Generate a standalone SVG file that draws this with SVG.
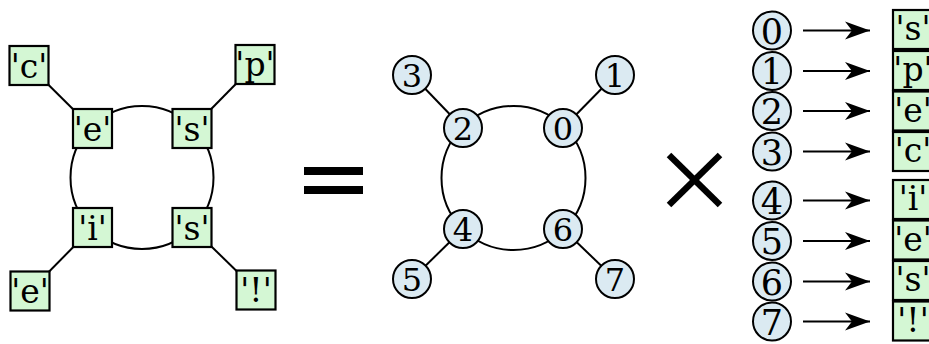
<svg xmlns="http://www.w3.org/2000/svg" width="929" height="344" viewBox="0 0 929 344">
<defs>
<style>
.edge{stroke:#000;stroke-width:2;fill:none}
.box{fill:#d4f7d4;stroke:#000;stroke-width:2.2}
.node{fill:#dbeaf2;stroke:#000;stroke-width:2}
.t{font-family:"DejaVu Serif","Liberation Serif",serif;font-size:33px;text-anchor:middle;fill:#000}
.tm{font-family:"DejaVu Serif","Liberation Serif",serif;font-size:32px;text-anchor:middle;fill:#000}
.tl{font-family:"DejaVu Serif","Liberation Serif",serif;font-size:35px;text-anchor:middle;fill:#000}
.tb{font-family:"DejaVu Serif","Liberation Serif",serif;font-size:33px;text-anchor:middle;fill:#000}
.arr{stroke:#000;stroke-width:2.2;fill:none}
</style>
<marker id="ah" viewBox="0 0 25 20" refX="25" refY="10" markerWidth="25" markerHeight="20" markerUnits="userSpaceOnUse" orient="auto">
<path d="M25,10 L0,1 L7,10 L0,19 Z" fill="#000"/>
</marker>
</defs>
<rect width="929" height="344" fill="#fff"/>

<g id="connectors">
<circle class="edge" cx="142" cy="177.5" r="71.5"/>
<line class="edge" x1="29" y1="65.5" x2="92.5" y2="128.5"/>
<line class="edge" x1="255" y1="64.5" x2="192" y2="128.5"/>
<line class="edge" x1="30" y1="291" x2="92.5" y2="227.5"/>
<line class="edge" x1="256" y1="290" x2="192" y2="227.5"/>
<circle class="edge" cx="513.5" cy="178" r="72"/>
<line class="edge" x1="412" y1="75" x2="463" y2="128"/>
<line class="edge" x1="615" y1="75" x2="563" y2="128"/>
<line class="edge" x1="412" y1="279" x2="463" y2="229"/>
<line class="edge" x1="615" y1="279" x2="563" y2="229"/>
<line class="arr" x1="803" y1="30.5" x2="870" y2="30.5" marker-end="url(#ah)"/>
<line class="arr" x1="803" y1="71" x2="870" y2="71" marker-end="url(#ah)"/>
<line class="arr" x1="803" y1="111" x2="870" y2="111" marker-end="url(#ah)"/>
<line class="arr" x1="803" y1="151.5" x2="870" y2="151.5" marker-end="url(#ah)"/>
<line class="arr" x1="803" y1="200.5" x2="870" y2="200.5" marker-end="url(#ah)"/>
<line class="arr" x1="803" y1="241" x2="870" y2="241" marker-end="url(#ah)"/>
<line class="arr" x1="803" y1="281.5" x2="870" y2="281.5" marker-end="url(#ah)"/>
<line class="arr" x1="803" y1="321.5" x2="870" y2="321.5" marker-end="url(#ah)"/>
</g>

<g id="L-c"><rect class="box" x="9.5" y="46" width="39" height="39"/><text class="t" x="29" y="77.5">'c'</text></g>
<g id="L-e1"><rect class="box" x="73" y="109" width="39" height="39"/><text class="t" x="92.5" y="140.5">'e'</text></g>
<g id="L-s1"><rect class="box" x="172.5" y="109" width="39" height="39"/><text class="t" x="192" y="140.5">'s'</text></g>
<g id="L-p"><rect class="box" x="235.5" y="45" width="39" height="39"/><text class="t" x="255" y="75.5">'p'</text></g>
<g id="L-i"><rect class="box" x="73" y="208" width="39" height="39"/><text class="t" x="92.5" y="239.5">'i'</text></g>
<g id="L-s2"><rect class="box" x="172.5" y="208" width="39" height="39"/><text class="t" x="192" y="239.5">'s'</text></g>
<g id="L-e2"><rect class="box" x="10.5" y="271.5" width="39" height="39"/><text class="t" x="30" y="303">'e'</text></g>
<g id="L-bang"><rect class="box" x="236.5" y="270.5" width="39" height="39"/><text class="t" x="256" y="302">'!'</text></g>

<g id="equals"><rect x="304" y="167" width="59" height="8" fill="#000"/><rect x="304" y="186" width="59" height="8" fill="#000"/></g>

<g id="M-0"><circle class="node" cx="563" cy="128" r="19"/><text class="tm" x="563" y="139.5">0</text></g>
<g id="M-1"><circle class="node" cx="615" cy="75" r="19"/><text class="tm" x="615" y="86.5">1</text></g>
<g id="M-2"><circle class="node" cx="463" cy="128" r="19"/><text class="tm" x="463" y="139.5">2</text></g>
<g id="M-3"><circle class="node" cx="412" cy="75" r="19"/><text class="tm" x="412" y="86.5">3</text></g>
<g id="M-4"><circle class="node" cx="463" cy="229" r="19"/><text class="tm" x="463" y="240.5">4</text></g>
<g id="M-5"><circle class="node" cx="412" cy="279" r="19"/><text class="tm" x="412" y="290.5">5</text></g>
<g id="M-6"><circle class="node" cx="563" cy="229" r="19"/><text class="tm" x="563" y="240.5">6</text></g>
<g id="M-7"><circle class="node" cx="615" cy="279" r="19"/><text class="tm" x="615" y="290.5">7</text></g>

<g id="times"><line x1="669" y1="155" x2="720" y2="205" stroke="#000" stroke-width="6.5"/><line x1="720" y1="155" x2="669" y2="205" stroke="#000" stroke-width="6.5"/></g>

<g id="R-0"><circle class="node" cx="772" cy="30.5" r="19"/><text class="tl" x="772" y="43.5">0</text></g>
<g id="R-1"><circle class="node" cx="772" cy="71" r="19"/><text class="tl" x="772" y="84">1</text></g>
<g id="R-2"><circle class="node" cx="772" cy="111" r="19"/><text class="tl" x="772" y="124">2</text></g>
<g id="R-3"><circle class="node" cx="772" cy="151.5" r="19"/><text class="tl" x="772" y="164.5">3</text></g>
<g id="R-4"><circle class="node" cx="772" cy="200.5" r="19"/><text class="tl" x="772" y="213.5">4</text></g>
<g id="R-5"><circle class="node" cx="772" cy="241" r="19"/><text class="tl" x="772" y="254">5</text></g>
<g id="R-6"><circle class="node" cx="772" cy="281.5" r="19"/><text class="tl" x="772" y="294.5">6</text></g>
<g id="R-7"><circle class="node" cx="772" cy="321.5" r="19"/><text class="tl" x="772" y="334.5">7</text></g>

<g id="B-0"><rect class="box" x="893" y="10" width="40" height="39"/><text class="tb" x="913" y="40">'s'</text></g>
<g id="B-1"><rect class="box" x="893" y="51" width="40" height="39"/><text class="tb" x="913" y="80.5">'p'</text></g>
<g id="B-2"><rect class="box" x="893" y="91.5" width="40" height="39"/><text class="tb" x="913" y="121.5">'e'</text></g>
<g id="B-3"><rect class="box" x="893" y="132" width="40" height="39"/><text class="tb" x="913" y="162">'c'</text></g>
<g id="B-4"><rect class="box" x="893" y="180" width="40" height="39"/><text class="tb" x="913" y="210">'i'</text></g>
<g id="B-5"><rect class="box" x="893" y="220.5" width="40" height="39"/><text class="tb" x="913" y="250.5">'e'</text></g>
<g id="B-6"><rect class="box" x="893" y="261" width="40" height="39"/><text class="tb" x="913" y="291">'s'</text></g>
<g id="B-7"><rect class="box" x="893" y="301.5" width="40" height="39"/><text class="tb" x="913" y="331.5">'!'</text></g>
</svg>
